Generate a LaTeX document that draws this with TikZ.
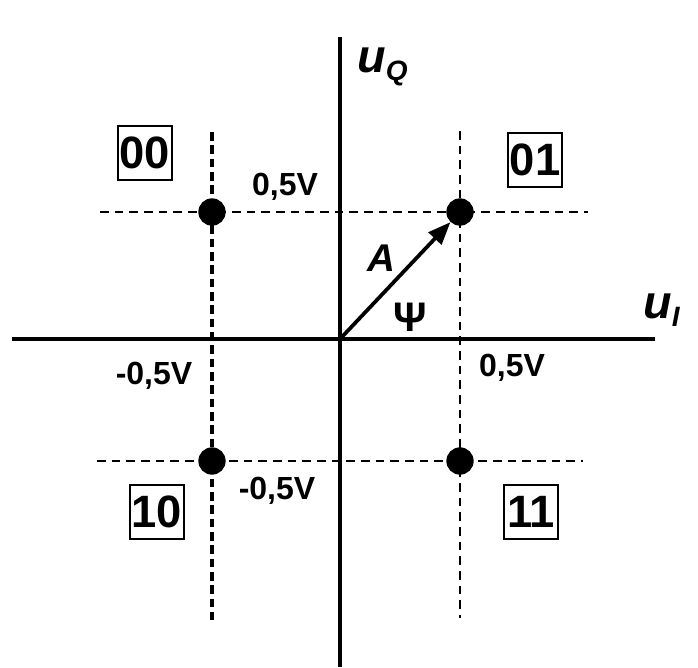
\documentclass[tikz,border=0pt]{standalone}
\usepackage{fontspec}
\setmainfont{Liberation Sans}
\usetikzlibrary{arrows.meta}
\begin{document}
\begin{tikzpicture}[x=0.75pt,y=-0.75pt,
  axis/.style={line width=2.3pt},
  thindash/.style={line width=1pt,dash pattern=on 6.5pt off 4.5pt},
  thickdash/.style={line width=2.3pt,dash pattern=on 6.5pt off 3.5pt},
  dot/.style={circle,fill=black,inner sep=0pt,minimum size=20.5pt},
  codebox/.style={draw,line width=1.5pt,inner sep=0pt,minimum width=40.5pt,minimum height=41pt,font=\fontsize{34}{36}\selectfont\bfseries},
  val/.style={font=\fontsize{24}{26}\selectfont\bfseries,inner sep=0pt},
  vec/.style={line width=2.8pt,-{Triangle[length=17pt,width=13pt]}}]
\useasboundingbox (0,0) rectangle (698,667);
% grid lines
\draw[thindash] (100,212) -- (588,212);
\draw[thindash] (97,461) -- (583,461);
\draw[thindash] (460,131) -- (460,618);
\draw[thickdash] (212,132) -- (212,620);
% axes
\coordinate (O) at (340,339);
\draw[axis] (12,339) -- (655,339);
\draw[axis] (340,37) -- (340,667);
% constellation points
\node[dot] (d00) at (212,212) {};
\node[dot] (d01) at (460,212) {};
\node[dot] (d10) at (212,461) {};
\node[dot] (d11) at (460,461) {};
% vector
\draw[vec] (O) -- (d01);
% code boxes
\node[codebox] (b00) at (145,153) {00};
\node[codebox] (b01) at (535,160) {01};
\node[codebox] (b10) at (157,512) {10};
\node[codebox] (b11) at (531,512) {11};
% value labels
\node[val] (l1) at (285,187) {0,5V};
\node[val] (l2) at (512,368) {0,5V};
\node[val] (l3) at (154,376) {-0,5V};
\node[val] (l4) at (277,491) {-0,5V};
% axis labels
\node[inner sep=0pt,anchor=base west] (uq) at (357,72) {\fontsize{35}{36}\selectfont\bfseries\itshape u\raisebox{-6pt}{\fontsize{21}{22}\selectfont Q}};
\node[inner sep=0pt,anchor=base west] (ui) at (643,318) {\fontsize{35}{36}\selectfont\bfseries\itshape u\raisebox{-6pt}{\fontsize{21}{22}\selectfont I}};
\node[inner sep=0pt,font=\fontsize{29}{30}\selectfont\bfseries\itshape] (A) at (381,258) {A};
\node[inner sep=0pt,font=\fontsize{31}{32}\selectfont\bfseries] (psi) at (410,317) {Ψ};
\end{tikzpicture}
\end{document}
